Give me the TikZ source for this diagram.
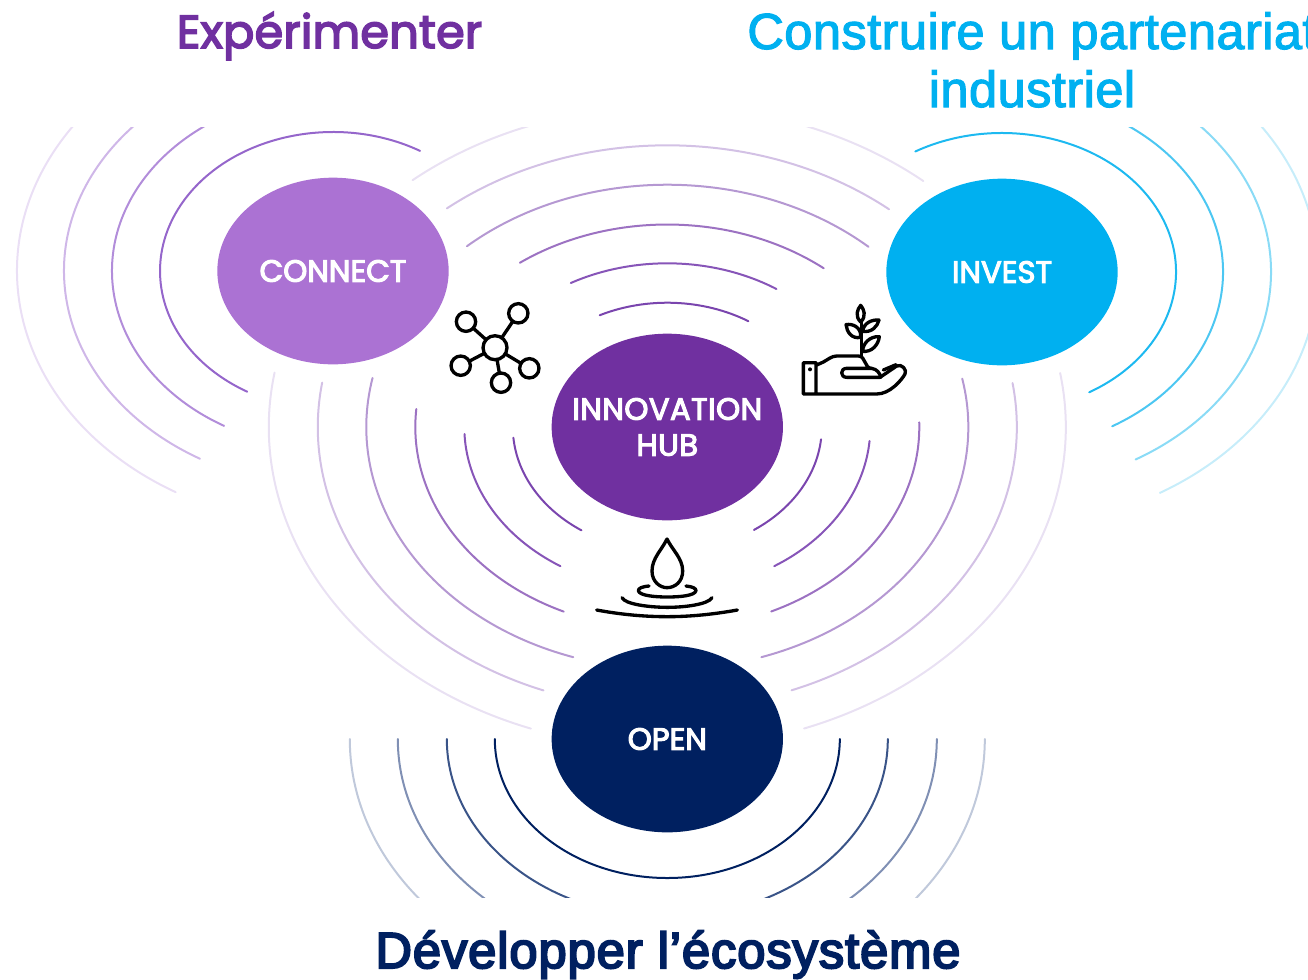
\documentclass[tikz,border=0pt]{standalone}
\usepackage{fontspec}
\usetikzlibrary{shapes.geometric}
\setmainfont{Poppins}
\newfontfamily\labelfont{Poppins}[FakeBold=3.5]
\newfontfamily\hublabelfont{Poppins}[FakeBold=3.5,LetterSpace=1.4]
\newfontfamily\headfont{Poppins}[FakeBold=3.5,LetterSpace=0.6]
\newfontfamily\headarial{Liberation Sans}[FakeBold=2.2,LetterSpace=0.8]
\newfontfamily\devfont{Liberation Sans}[FakeBold=4,LetterSpace=1.8]
\definecolor{cconnect}{HTML}{AB72D3}
\definecolor{chub}{HTML}{7030A0}
\definecolor{cinvest}{HTML}{00B0F0}
\definecolor{copen}{HTML}{002060}
\tikzset{
  x=0.75pt,y=-0.75pt,
  blob/.style={ellipse,inner sep=0pt,outer sep=0pt,text=white,align=center,
    minimum width=173.5pt,minimum height=140pt,
    font=\labelfont\fontsize{23}{27}\selectfont},
  ring/.style={line width=1.5pt,line cap=round,fill=none},
  head/.style={inner sep=0pt,outer sep=0pt,anchor=base,align=center},
  icon/.style={line width=2.5pt,line cap=round,line join=round,fill=none,draw=black},
  netdot/.style={circle,draw=black,line width=2.5pt,inner sep=0pt,outer sep=0pt,minimum size=14.5pt},
}
\def\cxconnect{333}\def\cyconnect{271}
\def\cxinvest{1002}\def\cyinvest{272}
\def\cxhub{667.3}\def\cyhub{427}
\def\cxopen{667.3}\def\cyopen{739}
% \earc{centre}{rx}{ry}{x1}{y1}{x2}{y2}{base angle}{colour}: arc round a node between two pixel points
\newcommand{\earc}[9]{%
  \definecolor{ringcol}{HTML}{#9}%
  \edef\cxv{\csname cx#1\endcsname}\edef\cyv{\csname cy#1\endcsname}%
  \pgfmathsetmacro{\angA}{mod(atan2((#5-\cyv)/#3,(#4-\cxv)/#2)-#8+720,360)+#8}%
  \pgfmathsetmacro{\angB}{mod(atan2((#7-\cyv)/#3,(#6-\cxv)/#2)-#8+720,360)+#8}%
  \draw[ring,draw=ringcol] ([shift={(\angA:#2 and #3)}]#1.center) arc[x radius=#2,y radius=#3,start angle=\angA,end angle=\angB];%
}
\begin{document}
\begin{tikzpicture}
\useasboundingbox (0,0) rectangle (1308,979);
\clip (0,0) rectangle (1308,979);

\node[blob,fill=cconnect,inner xsep=-30pt] (connect) at (\cxconnect,\cyconnect) {CONNECT};
\node[blob,fill=cinvest,inner xsep=-30pt] (invest) at (\cxinvest,\cyinvest) {INVEST};
\node[blob,fill=chub,inner xsep=-40pt,inner ysep=-10pt,font=\hublabelfont\fontsize{23}{27}\selectfont] (hub) at (\cxhub,\cyhub) {INNOVATION\\HUB};
\node[blob,fill=copen,inner xsep=-30pt] (open) at (\cxopen,\cyopen) {OPEN};

% rings of the upper band
\begin{scope}
\clip (0,127) rectangle (1308,979);
% CONNECT
\earc{connect}{173}{139}{420}{151}{247}{392}{-360}{9566CB}
\earc{connect}{221}{178}{290}{100}{224}{426}{-360}{B28DDA}
\earc{connect}{269}{216}{290}{55}{199}{460}{-360}{CFB7E8}
\earc{connect}{316}{255}{290}{16}{175}{493}{-360}{EADFF5}
% INVEST
\earc{invest}{174}{139}{915}{151}{1089}{392}{-180}{1DB9F0}
\earc{invest}{221}{178}{1040}{100}{1112}{426}{-180}{4CC7F2}
\earc{invest}{269}{216}{1040}{55}{1136}{460}{-180}{8ADBF6}
\earc{invest}{316}{255}{1040}{16}{1160}{493}{-180}{C7EDFA}
% HUB, upper
\earc{hub}{154.5}{124.3}{600}{315.7}{748}{321.7}{-180}{7A45AE}
\earc{hub}{203}{163.7}{571}{283.3}{776.4}{289}{-180}{8755B8}
\earc{hub}{252}{202.5}{519.8}{262.7}{824.2}{267.7}{-180}{9C72C2}
\earc{hub}{301}{242.3}{467.5}{246.7}{868.3}{247}{-180}{B598D2}
\earc{hub}{349.5}{281.7}{447.2}{208.7}{889}{209.3}{-180}{D3C1E5}
\earc{hub}{398.5}{321}{412.7}{180.3}{923.4}{181}{-180}{E9E1F3}
\end{scope}
% HUB, lower left
\earc{hub}{154.5}{124.3}{513.7}{437.7}{581.7}{530}{0}{7A45AE}
\earc{hub}{203}{163.7}{464.7}{434}{560}{566.7}{0}{8755B8}
\earc{hub}{252}{202.5}{416.3}{409}{563.3}{612.3}{0}{9C72C2}
\earc{hub}{301}{242.3}{373}{378}{573.3}{657}{0}{B598D2}
\earc{hub}{349.5}{281.7}{322.7}{382.7}{543.3}{690.7}{0}{D3C1E5}
\earc{hub}{398.5}{321}{275.3}{372.7}{530.7}{729}{0}{E9E1F3}
% HUB, lower right
\earc{hub}{154.5}{124.3}{821}{439.3}{754}{530}{-90}{7A45AE}
\earc{hub}{203}{163.7}{870}{441}{774.7}{566.7}{-90}{8755B8}
\earc{hub}{252}{202.5}{919.7}{422.3}{771.7}{612.3}{-90}{9C72C2}
\earc{hub}{301}{242.3}{961.7}{378.7}{761.3}{657}{-90}{B598D2}
\earc{hub}{349.5}{281.7}{1012.7}{383}{791.7}{690.7}{-90}{D3C1E5}
\earc{hub}{398.5}{321}{1060}{373}{804.3}{729}{-90}{E9E1F3}
% OPEN
\begin{scope}
\clip (0,0) rectangle (1308,897);
\earc{open}{172.5}{139}{840}{739}{495}{739}{0}{002060}
\earc{open}{220.5}{178}{888}{739}{447}{739}{0}{3A5488}
\earc{open}{269.5}{217}{937}{739}{398}{739}{0}{8090B4}
\earc{open}{317.5}{256}{985}{739}{350}{739}{0}{C0C9DB}
\end{scope}

% network icon
\node[netdot,minimum size=18pt] (nc) at (495,347.7) {};
\node[netdot] (n1) at (466,321.7) {};
\node[netdot] (n2) at (518.3,313.3) {};
\node[netdot] (n3) at (460.7,365.7) {};
\node[netdot] (n4) at (529.3,368.3) {};
\node[netdot] (n5) at (501,382.7) {};
\foreach \n in {n1,n2,n3,n4,n5} \draw[icon] (nc) -- (\n);

% hand and plant icon
\begin{scope}[shift={(790,290)},x=0.25pt,y=-0.25pt]
\draw[icon] (78,226) -- (100,216) .. controls (115,208) and (125,198) .. (140,198) -- (205,198)
  .. controls (228,198) and (222,235) .. (245,235) -- (170,235)
  .. controls (150,235) and (150,262) .. (170,262) -- (270,262) -- (320,228)
  .. controls (335,220) and (352,240) .. (345,252)
  .. controls (335,270) and (300,312) .. (260,312) -- (40,312) -- (40,218) -- (78,218) -- (78,312);
\draw[icon] (245,235) .. controls (262,238) and (270,250) .. (272,262);
\draw[icon] (280,240) -- (318,224);
\draw[icon] (215,198) -- (215,95);
\draw[icon] (212,46) .. controls (222,58) and (230,78) .. (212,96) .. controls (194,78) and (202,58) .. (212,46) -- cycle;
\draw[icon] (168,104) .. controls (185,100) and (215,110) .. (212,142) .. controls (185,148) and (170,125) .. (168,104) -- cycle;
\draw[icon] (267,90) .. controls (262,110) and (245,128) .. (218,124) .. controls (220,100) and (245,88) .. (267,90) -- cycle;
\draw[icon] (268,140) .. controls (265,165) and (245,187) .. (218,184) .. controls (218,160) and (240,138) .. (268,140) -- cycle;
\fill (60,238) circle[radius=6];
\end{scope}

% drop icon
\begin{scope}[shift={(580,525)},x=0.25pt,y=-0.25pt]
\draw[icon] (261,42) .. controls (245,75) and (216,100) .. (216,138)
  .. controls (216,170) and (240,188) .. (261,188)
  .. controls (285,188) and (308,170) .. (308,138)
  .. controls (308,100) and (277,75) .. (261,42) -- cycle;
\draw[icon] (207,183) .. controls (185,185) and (175,190) .. (175,197)
  .. controls (178,212) and (225,216) .. (262,216)
  .. controls (300,216) and (345,212) .. (348,197)
  .. controls (348,190) and (338,185) .. (318,183);
\draw[icon] (126,218) .. controls (135,238) and (210,247) .. (262,247) .. controls (315,247) and (385,238) .. (396,218);
\draw[icon] (50,255) .. controls (120,268) and (190,275) .. (262,275) .. controls (330,275) and (400,268) .. (472,255);
\end{scope}

% headings
\node[head,text=chub,font=\headfont\fontsize{34.6}{42}\selectfont] (expe) at (329.5,48) {Expérimenter};
\node[head,text=cinvest,font=\headarial\fontsize{38}{46}\selectfont] (cons1) at (1032,49) {Construire un partenariat};
\node[head,text=cinvest,font=\headarial\fontsize{38}{46}\selectfont] (cons2) at (1032,107) {industriel};
\node[head,text=copen,font=\devfont\fontsize{38}{47}\selectfont] (dev) at (668,968) {Développer l’écosystème};
\end{tikzpicture}
\end{document}
